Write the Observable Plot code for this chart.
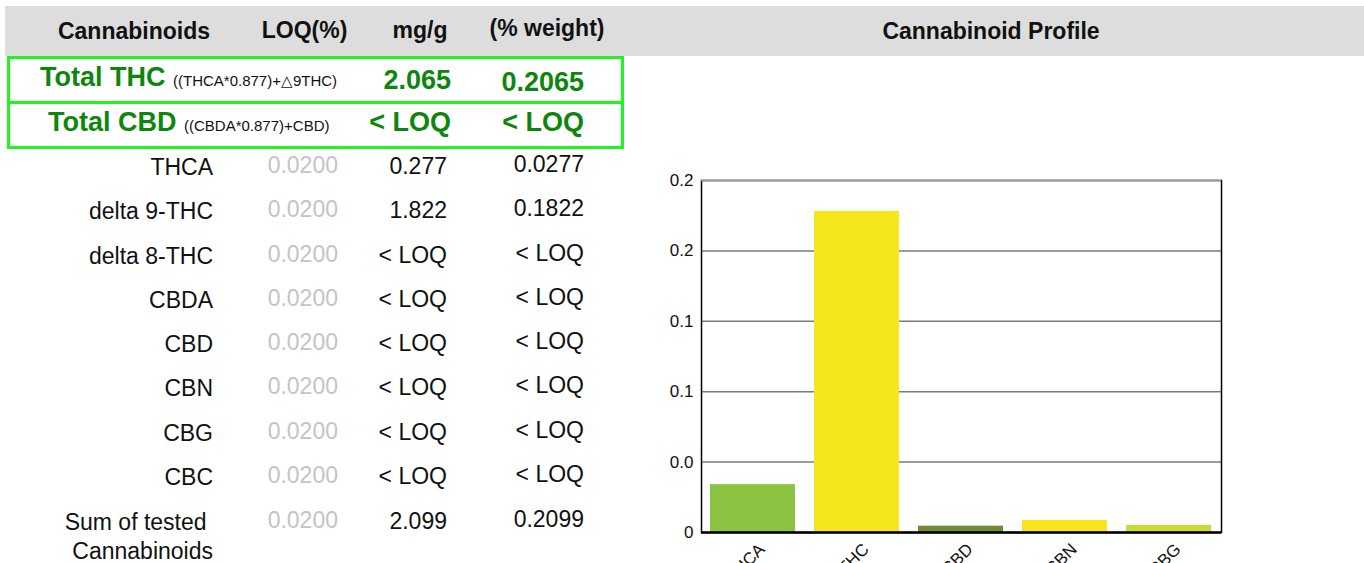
<!DOCTYPE html>
<html><head><meta charset="utf-8">
<script src="https://cdn.jsdelivr.net/npm/d3@7"></script>
<script src="https://cdn.jsdelivr.net/npm/@observablehq/plot@0.6"></script>
<style>
html,body{margin:0;padding:0;background:#fff;overflow:hidden;width:1364px;height:563px;}
body{font-family:"Liberation Sans",Arial,Helvetica,sans-serif;position:relative;}
.t{position:absolute;white-space:pre;}
</style></head><body>
<script>
// ---- table data ----
const headerLabels = ["Cannabinoids", "LOQ(%)", "mg/g", "(% weight)"];
const chartTitle = "Cannabinoid Profile";
const totalLabels = ["Total THC", "Total CBD"];
const totalFormulas = ["((THCA*0.877)+△9THC)", "((CBDA*0.877)+CBD)"];
const totalMg = ["2.065", "< LOQ"];
const totalPct = ["0.2065", "< LOQ"];
const rowLabels = ["THCA", "delta 9-THC", "delta 8-THC", "CBDA", "CBD", "CBN", "CBG", "CBC", "Sum of tested \nCannabinoids"];
const rowLoq = ["0.0200", "0.0200", "0.0200", "0.0200", "0.0200", "0.0200", "0.0200", "0.0200", "0.0200"];
const rowMg = ["0.277", "1.822", "< LOQ", "< LOQ", "< LOQ", "< LOQ", "< LOQ", "< LOQ", "2.099"];
const rowPct = ["0.0277", "0.1822", "< LOQ", "< LOQ", "< LOQ", "< LOQ", "< LOQ", "< LOQ", "0.2099"];

// ---- chart data ----
const barLabels = ["THCA", "Δ9-THC", "CBD", "CBN", "CBG"];
const barValues = [0.034, 0.228, 0.0045, 0.0085, 0.005];
const barColors = ["#8bc341", "#f5e71a", "#6f8b3a", "#f5e71a", "#cddc33"];
const yTicks = [0, 0.05, 0.1, 0.15, 0.2, 0.25];
const yTickLabels = ["0", "0.0", "0.1", "0.1", "0.2", "0.2"];

// ---- layout helpers ----
function box(left, top, w, h, css) {
  const d = document.createElement("div");
  d.style.cssText = `position:absolute;left:${left}px;top:${top}px;width:${w}px;height:${h}px;${css}`;
  document.body.appendChild(d);
  return d;
}
function text(str, x, cy, align, css, lh = 30) {
  const d = document.createElement("div");
  d.className = "t";
  d.textContent = str;
  let pos = "";
  if (align === "center") pos = `left:${x - 300}px;width:600px;text-align:center;`;
  else if (align === "right") pos = `left:${x - 600}px;width:600px;text-align:right;`;
  else pos = `left:${x}px;`;
  d.style.cssText = pos + `top:${cy - lh / 2}px;line-height:${lh}px;` + css;
  document.body.appendChild(d);
  return d;
}

// header band
box(5, 6, 1359, 50, "background:#dddddd;");
const hx = [134, 304.5, 420, 547], hy = [31, 30, 30, 28];
headerLabels.forEach((h, i) => text(h, hx[i], hy[i], "center", "font-weight:bold;font-size:23px;color:#111;"));
text(chartTitle, 991, 31, "center", "font-weight:bold;font-size:23px;color:#111;");

// green totals boxes
const G = "#1ff51f";
box(7, 56, 617, 93, `box-sizing:border-box;border:3.5px solid ${G};`);
box(7, 100.5, 617, 3.5, `background:${G};`);
const greenTxt = "color:#0d860d;font-weight:bold;font-size:27px;";
const tl = [40, 48], tcy = [77, 122];
totalLabels.forEach((lab, i) => {
  const d = text("", tl[i], tcy[i], "left", greenTxt, 32);
  d.appendChild(document.createTextNode(lab + " "));
  const s = document.createElement("span");
  s.textContent = totalFormulas[i];
  s.style.cssText = "font-size:15px;font-weight:normal;color:#111;";
  d.appendChild(s);
});
const mgY = [80, 122], pctY = [82, 122];
totalMg.forEach((v, i) => text(v, 451, mgY[i], "right", greenTxt, 32));
totalPct.forEach((v, i) => text(v, 584, pctY[i], "right", greenTxt, 32));

// rows
const rowY = [167, 211, 256, 300, 344, 388, 433, 477, 522];
const rowCss = "font-size:23px;color:#111;";
rowLabels.forEach((lab, i) => {
  if (lab.includes("\n")) text(lab, 213, rowY[i], "right", rowCss, 29);
  else text(lab, 213, rowY[i], "right", rowCss);
});
rowLoq.forEach((v, i) => text(v, 338, rowY[i] - 2, "right", "font-size:23px;color:#c4c4c4;"));
rowMg.forEach((v, i) => text(v, 447, rowY[i] - 1, "right", rowCss));
rowPct.forEach((v, i) => text(v, 584, rowY[i] - 3, "right", rowCss));

// ---- chart ----
const data = barLabels.map((l, i) => ({label: l, value: barValues[i], color: barColors[i]}));
const chart = Plot.plot({
  width: 600, height: 403,
  marginLeft: 61, marginRight: 19, marginTop: 20, marginBottom: 31,
  style: {fontFamily: "Liberation Sans, Arial, sans-serif", fontSize: "17px", color: "#111", background: "transparent", overflow: "visible"},
  x: {domain: barLabels, paddingInner: 0.18, paddingOuter: 0.09, label: null},
  y: {domain: [0, 0.25], label: null},
  color: {type: "identity"},
  marks: [
    Plot.ruleY(yTicks.slice(1, -1), {stroke: "#7a7a7a", strokeWidth: 1.5}),
    Plot.barY(data, {x: "label", y: "value", fill: "color"}),
    Plot.frame({stroke: "#000", strokeWidth: 1.5}),
    Plot.ruleY([0.25], {stroke: "#9a9a9a", strokeWidth: 1.5}),
    Plot.ruleY([0], {stroke: "#000", strokeWidth: 2.5}),
    Plot.axisY({ticks: yTicks, tickFormat: d => yTickLabels[yTicks.indexOf(d)], tickSize: 0, tickPadding: 8, label: null, fontSize: 17}),
    Plot.axisX({tickRotate: -45, tickSize: 0, tickPadding: 14, dx: 9, label: null, fontSize: 17})
  ]
});
const holder = box(640, 160, 600, 403, "");
holder.appendChild(chart);
</script>
</body></html>
